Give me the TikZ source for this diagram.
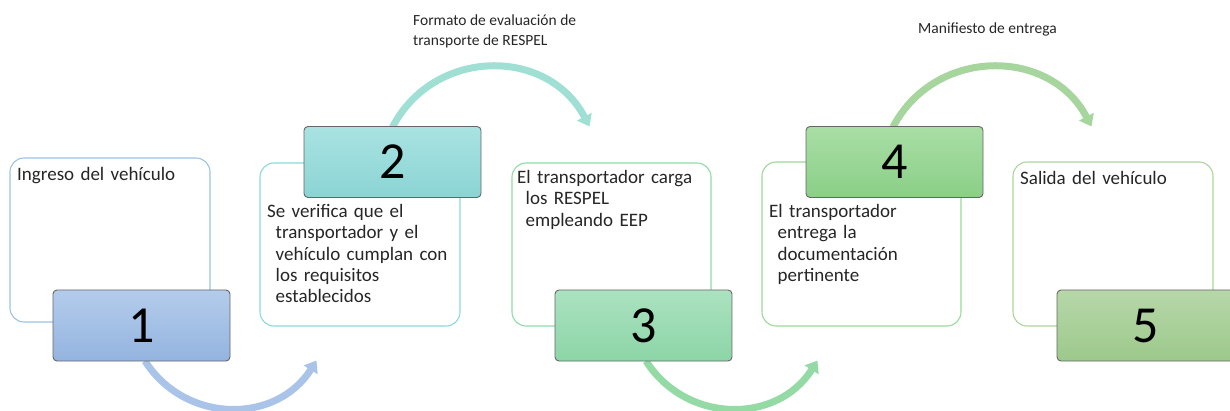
\documentclass[tikz,border=0pt]{standalone}
\usepackage{fontspec}
\setmainfont{Carlito}
\usetikzlibrary{arrows.meta,calc}
\definecolor{cBo}{HTML}{9DC3E6}
\definecolor{cBt}{HTML}{B4CCEB}
\definecolor{cBb}{HTML}{93B4E0}
\definecolor{cBa}{HTML}{A9C4E8}
\definecolor{cTo}{HTML}{8ED8DA}
\definecolor{cTt}{HTML}{A9E3E2}
\definecolor{cTb}{HTML}{8BD4D4}
\definecolor{cTa}{HTML}{9FDFD4}
\definecolor{cMo}{HTML}{8EDCA9}
\definecolor{cMt}{HTML}{ABE2C0}
\definecolor{cMb}{HTML}{8CD5A7}
\definecolor{cMa}{HTML}{94DAA4}
\definecolor{cGo}{HTML}{9CD99A}
\definecolor{cGt}{HTML}{A9DEA5}
\definecolor{cGb}{HTML}{8ACF87}
\definecolor{cGa}{HTML}{A6D59E}
\definecolor{cLo}{HTML}{ABD69A}
\definecolor{cLt}{HTML}{B7D7A9}
\definecolor{cLb}{HTML}{9CC98B}
\definecolor{txtc}{HTML}{262626}
\tikzset{
  outbox/.style={draw, line width=1.1pt, rounded corners=14pt, fill=white,
    minimum height=164pt, inner sep=0pt},
  numbox/.style={draw=black!60, line width=0.9pt, rounded corners=4pt,
    minimum width=177pt, minimum height=71pt, inner sep=0pt,
    font=\fontsize{52}{52}\selectfont, text=black},
  txt/.style={anchor=north west, inner sep=0pt, text width=195pt, align=left,
    font=\fontsize{19}{21.3}\selectfont, text=txtc},
  lbl/.style={inner sep=0pt, align=left, font=\fontsize{15.5}{20.5}\selectfont, text=txtc},
  flow/.style={line width=7pt, -{Triangle[width=16pt,length=11pt]}}
}
\begin{document}
\begin{tikzpicture}[x=1pt,y=-1pt]
\useasboundingbox (0,0) rectangle (1230,411);
% outline boxes
\node[outbox, draw=cBo, minimum width=200pt] (o1) at (110,240) {};
\node[outbox, draw=cTo, minimum width=200pt, minimum height=163pt] (o2) at (360,244.5) {};
\node[outbox, draw=cMo, minimum width=199pt, minimum height=163pt] (o3) at (611.5,244.5) {};
\node[outbox, draw=cGo, minimum width=199pt] (o4) at (861.5,244) {};
\node[outbox, draw=cLo, minimum width=200pt] (o5) at (1113,244) {};
% centres of the number boxes
\path (141.5,325.5) coordinate (p1) (392.5,162) coordinate (p2)
      (643.5,325.5) coordinate (p3) (894.5,162) coordinate (p4)
      (1145.5,325.5) coordinate (p5);
% arrows
\draw[flow, draw=cBa] ($(p1)+(3.5,35.5)$) .. controls +(40.2,62.9) and +(-40.2,63.9) .. ($(o2.south west)+(57,34)$);
\draw[flow, draw=cTa] ($(p2)+(0,-35)$) .. controls +(41.7,-79.7) and +(-41.7,-79.7) .. ($(o3.north west)+(78,-36)$);
\draw[flow, draw=cMa] ($(p3)+(2.5,35.5)$) .. controls +(40.2,62.9) and +(-40.2,63.9) .. ($(o4.south west)+(56,34)$);
\draw[flow, draw=cGa] ($(p4)+(-1.5,-35)$) .. controls +(41.7,-79.7) and +(-41.7,-79.7) .. ($(o5.north west)+(79,-35)$);
% number boxes
\node[numbox, top color=cBt, bottom color=cBb] (n1) at (p1) {1};
\node[numbox, top color=cTt, bottom color=cTb] (n2) at (p2) {2};
\node[numbox, top color=cMt, bottom color=cMb] (n3) at (p3) {3};
\node[numbox, top color=cGt, bottom color=cGb] (n4) at (p4) {4};
\node[numbox, top color=cLt, bottom color=cLb] (n5) at (p5) {5};
% texts
\node[txt] (t1) at (17,165) {\noindent\rule{0pt}{15pt}Ingreso del vehículo};
\node[txt] (t2) at (267,202.5) {\noindent\rule{0pt}{15pt}Se verifica que el\newline
  \hspace*{8.5pt}transportador y el\newline
  \hspace*{8.5pt}vehículo cumplan con\newline
  \hspace*{8.5pt}los requisitos\newline
  \hspace*{8.5pt}establecidos};
\node[txt] (t3) at (517,168.5) {\noindent\rule{0pt}{15pt}El transportador carga\newline
  \hspace*{8.5pt}los RESPEL\newline
  \hspace*{8.5pt}empleando EEP};
\node[txt] (t4) at (769,202.5) {\noindent\rule{0pt}{15pt}El transportador\newline
  \hspace*{8.5pt}entrega la\newline
  \hspace*{8.5pt}documentación\newline
  \hspace*{8.5pt}pertinente};
\node[txt] (t5) at (1020,169.5) {\noindent\rule{0pt}{15pt}Salida del vehículo};
% arrow labels
\node[lbl, anchor=base west] (l1) at (413,46) {Formato de evaluación de\\transporte de RESPEL};
\node[lbl, anchor=base west] (l2) at (918,33.6) {Manifiesto de entrega};
\end{tikzpicture}
\end{document}
